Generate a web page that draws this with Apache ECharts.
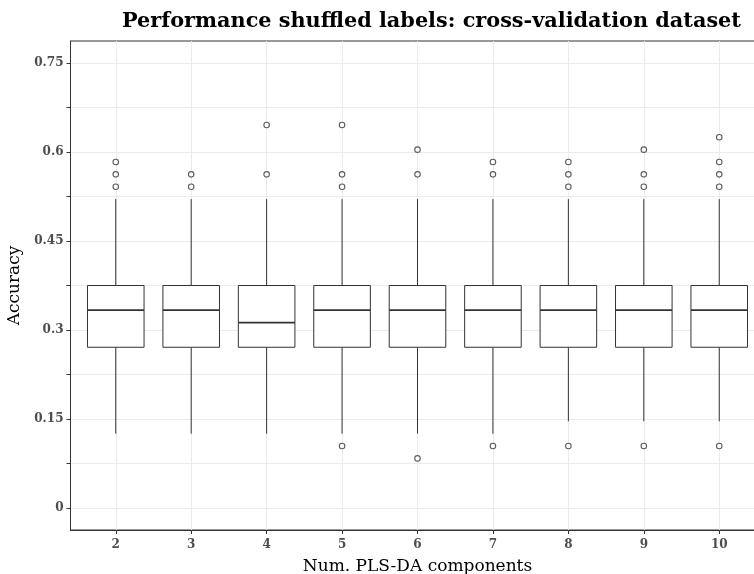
<!DOCTYPE html>
<html><head><meta charset="utf-8">
<script src="https://cdn.jsdelivr.net/npm/echarts@6/dist/echarts.min.js"></script>
<style>html,body{margin:0;padding:0;background:#fff}#c{width:754px;height:574px}</style>
</head><body><div id="c"></div>
<script>
// Number of PLS-DA components
const components = [2, 3, 4, 5, 6, 7, 8, 9, 10];
// Box statistics: lower whisker, Q1, median, Q3, upper whisker
const whiskerLow = [0.125, 0.125, 0.125, 0.125, 0.125, 0.125, 0.1458, 0.1458, 0.1458];
const q1 = [0.2708, 0.2708, 0.2708, 0.2708, 0.2708, 0.2708, 0.2708, 0.2708, 0.2708];
const median = [0.3333, 0.3333, 0.3125, 0.3333, 0.3333, 0.3333, 0.3333, 0.3333, 0.3333];
const q3 = [0.375, 0.375, 0.375, 0.375, 0.375, 0.375, 0.375, 0.375, 0.375];
const whiskerHigh = [0.5208, 0.5208, 0.5208, 0.5208, 0.5208, 0.5208, 0.5208, 0.5208, 0.5208];
// Outliers per component
const outliers = [
  [0.5417, 0.5625, 0.5833],
  [0.5417, 0.5625],
  [0.5625, 0.6458],
  [0.5417, 0.5625, 0.6458, 0.1042],
  [0.5625, 0.6042, 0.0833],
  [0.5625, 0.5833, 0.1042],
  [0.5417, 0.5625, 0.5833, 0.1042],
  [0.5417, 0.5625, 0.6042, 0.1042],
  [0.5417, 0.5625, 0.5833, 0.625, 0.1042]
];
const yTickLabels = [0, 0.15, 0.3, 0.45, 0.6, 0.75];
const yTicks = [0, 0.075, 0.15, 0.225, 0.3, 0.375, 0.45, 0.525, 0.6, 0.675, 0.75];

const boxData = components.map((c, i) => [c, whiskerLow[i], q1[i], median[i], q3[i], whiskerHigh[i]]);
const outlierData = [];
components.forEach((c, i) => outliers[i].forEach(v => outlierData.push([c, v])));

const serif = '"DejaVu Serif", "Liberation Serif", serif';
const chart = echarts.init(document.getElementById('c'), null, {renderer: 'canvas'});
chart.setOption({
  animation: false,
  backgroundColor: '#fff',
  title: {
    text: 'Performance shuffled labels: cross-validation dataset',
    left: 122, top: 11, padding: 0,
    textStyle: {fontFamily: serif, fontWeight: 'bold', fontSize: 20.8, color: '#000'}
  },
  grid: {left: 70.5, right: -10.5, top: 41, bottom: 44, show: true, borderColor: '#333', borderWidth: 1,
    backgroundColor: '#fff', outerBoundsMode: 'none', containLabel: false},
  xAxis: {
    type: 'value', min: 1.4, max: 10.6,
    name: 'Num. PLS-DA components', nameLocation: 'middle', nameGap: 28,
    nameTextStyle: {fontFamily: serif, fontSize: 17, color: '#000'},
    axisLine: {show: true, onZero: false, lineStyle: {color: '#333', width: 1}},
    axisTick: {show: true, length: 4, customValues: components, lineStyle: {color: '#333'}},
    axisLabel: {customValues: components, fontFamily: serif, fontWeight: 'bold', fontSize: 12, color: '#4d4d4d', margin: 9},
    splitLine: {show: true, lineStyle: {color: '#ebebeb', width: 1}}
  },
  yAxis: {
    type: 'value', min: -0.0375, max: 0.7875,
    name: 'Accuracy', nameLocation: 'middle', nameGap: 40, nameRotate: 90,
    nameTextStyle: {fontFamily: serif, fontSize: 17, color: '#000'},
    axisLine: {show: true, onZero: false, lineStyle: {color: '#333', width: 1}},
    axisTick: {show: true, length: 4, customValues: yTicks, lineStyle: {color: '#333'}},
    axisLabel: {customValues: yTickLabels, fontFamily: serif, fontWeight: 'bold', fontSize: 12, color: '#4d4d4d', margin: 7,
      formatter: v => String(+v.toFixed(3))},
    splitLine: {show: true, lineStyle: {color: '#ebebeb', width: 1}}
  },
  series: [
    {
      type: 'custom',
      data: boxData,
      encode: {x: 0, y: [1, 2, 3, 4, 5]},
      renderItem: function (params, api) {
        const x = api.value(0);
        const lo = api.coord([x, api.value(1)]);
        const b1 = api.coord([x, api.value(2)]);
        const md = api.coord([x, api.value(3)]);
        const b3 = api.coord([x, api.value(4)]);
        const hi = api.coord([x, api.value(5)]);
        const half = api.size([0.75, 0])[0] / 2;
        const stroke = {stroke: '#333', lineWidth: 1};
        return {
          type: 'group',
          children: [
            {type: 'line', shape: {x1: lo[0], y1: lo[1], x2: b1[0], y2: b1[1]}, style: stroke},
            {type: 'line', shape: {x1: b3[0], y1: b3[1], x2: hi[0], y2: hi[1]}, style: stroke},
            {type: 'rect', shape: {x: b3[0] - half, y: b3[1], width: 2 * half, height: b1[1] - b3[1]},
              style: {fill: '#fff', stroke: '#333', lineWidth: 1}},
            {type: 'line', shape: {x1: md[0] - half, y1: md[1], x2: md[0] + half, y2: md[1]},
              style: {stroke: '#333', lineWidth: 1.8}}
          ]
        };
      }
    },
    {
      type: 'scatter',
      data: outlierData,
      symbol: 'circle', symbolSize: 5.5,
      itemStyle: {color: '#fff', borderColor: '#333', borderWidth: 1.1},
      z: 5
    }
  ]
});
</script></body></html>
